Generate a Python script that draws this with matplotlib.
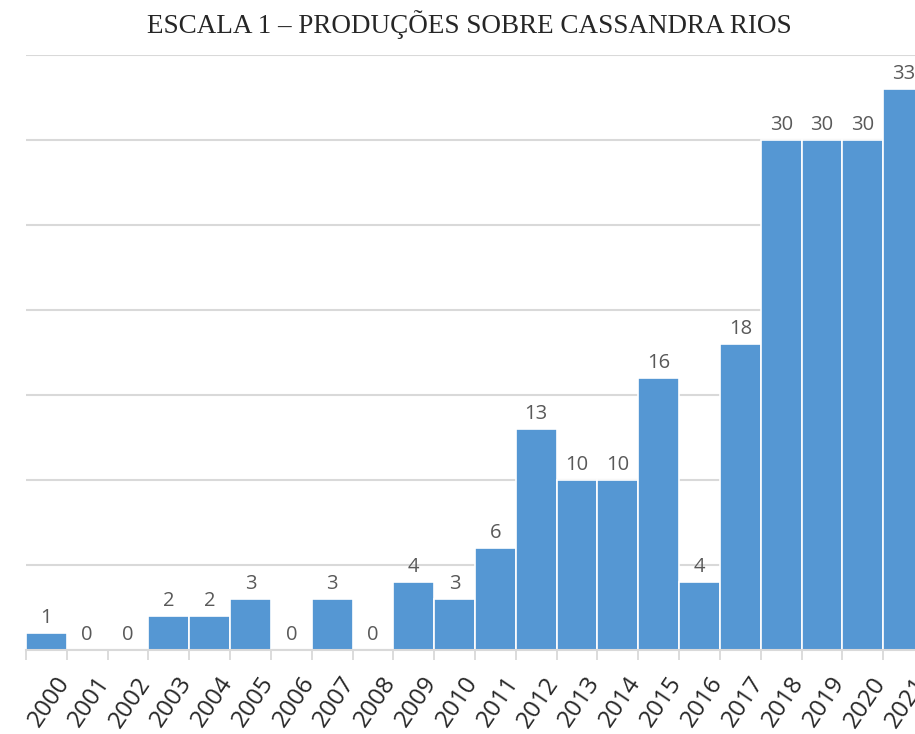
"""Escala 1 - produções sobre Cassandra Rios, bar chart per year."""

import matplotlib
matplotlib.use("Agg")
import matplotlib.pyplot as plt
import numpy as np

years = [str(y) for y in range(2000, 2022)]
counts = [1, 0, 0, 2, 2, 3, 0, 3, 0, 4, 3, 6, 13, 10, 10, 16, 4, 18, 30, 30, 30, 33]
title = "ESCALA 1 – PRODUÇÕES SOBRE CASSANDRA RIOS"

BAR = "#5597D3"
GRID = "#D9D9D9"

W, H = 915, 734
fig = plt.figure(figsize=(W / 100, H / 100), dpi=100)
# axes in pixel terms: x 26..924 (right side runs off the figure), y 55..650
ax = fig.add_axes([26 / W, 1 - 650 / H, (924 - 26) / W, (650 - 55) / H])

x = np.arange(len(years))
ax.bar(x, counts, width=1.0, color=BAR, edgecolor="white", linewidth=1.2, zorder=3)

for xi, v in zip(x, counts):
    ax.text(xi, v + 0.3, str(v), ha="center", va="bottom",
            fontsize=14.5, color="#595959", family="Open Sans", zorder=4)

ax.set_xlim(-0.5, len(years) - 0.5)
ax.set_ylim(0, 35)
ax.set_yticks(np.arange(0, 36, 5))
ax.yaxis.grid(True, color=GRID, linewidth=1.5, zorder=0)
ax.tick_params(axis="y", left=False, labelleft=False)

# category boundaries get the tick marks, labels sit at centres
ax.set_xticks(np.arange(-0.5, len(years), 1.0), minor=False)
ax.set_xticklabels([])
ax.tick_params(axis="x", which="major", length=7, width=1.3, color=GRID)
ax.set_xticks(x + 0.2, minor=True)
ax.set_xticklabels(years, minor=True, rotation=56, ha="right",
                   rotation_mode="anchor", fontsize=17.5, color="#262626",
                   family="Open Sans")
ax.tick_params(axis="x", which="minor", length=0, pad=16)

for side in ("top", "right", "left"):
    ax.spines[side].set_visible(False)
ax.spines["bottom"].set_color(GRID)
ax.spines["bottom"].set_linewidth(1.5)
ax.spines["bottom"].set_zorder(5)

fig.text(469 / W, 1 - 25 / H, title, ha="center", va="center",
         fontsize=19.5, family="Liberation Serif", color="#262626")

fig.savefig("out.png", dpi=100)
